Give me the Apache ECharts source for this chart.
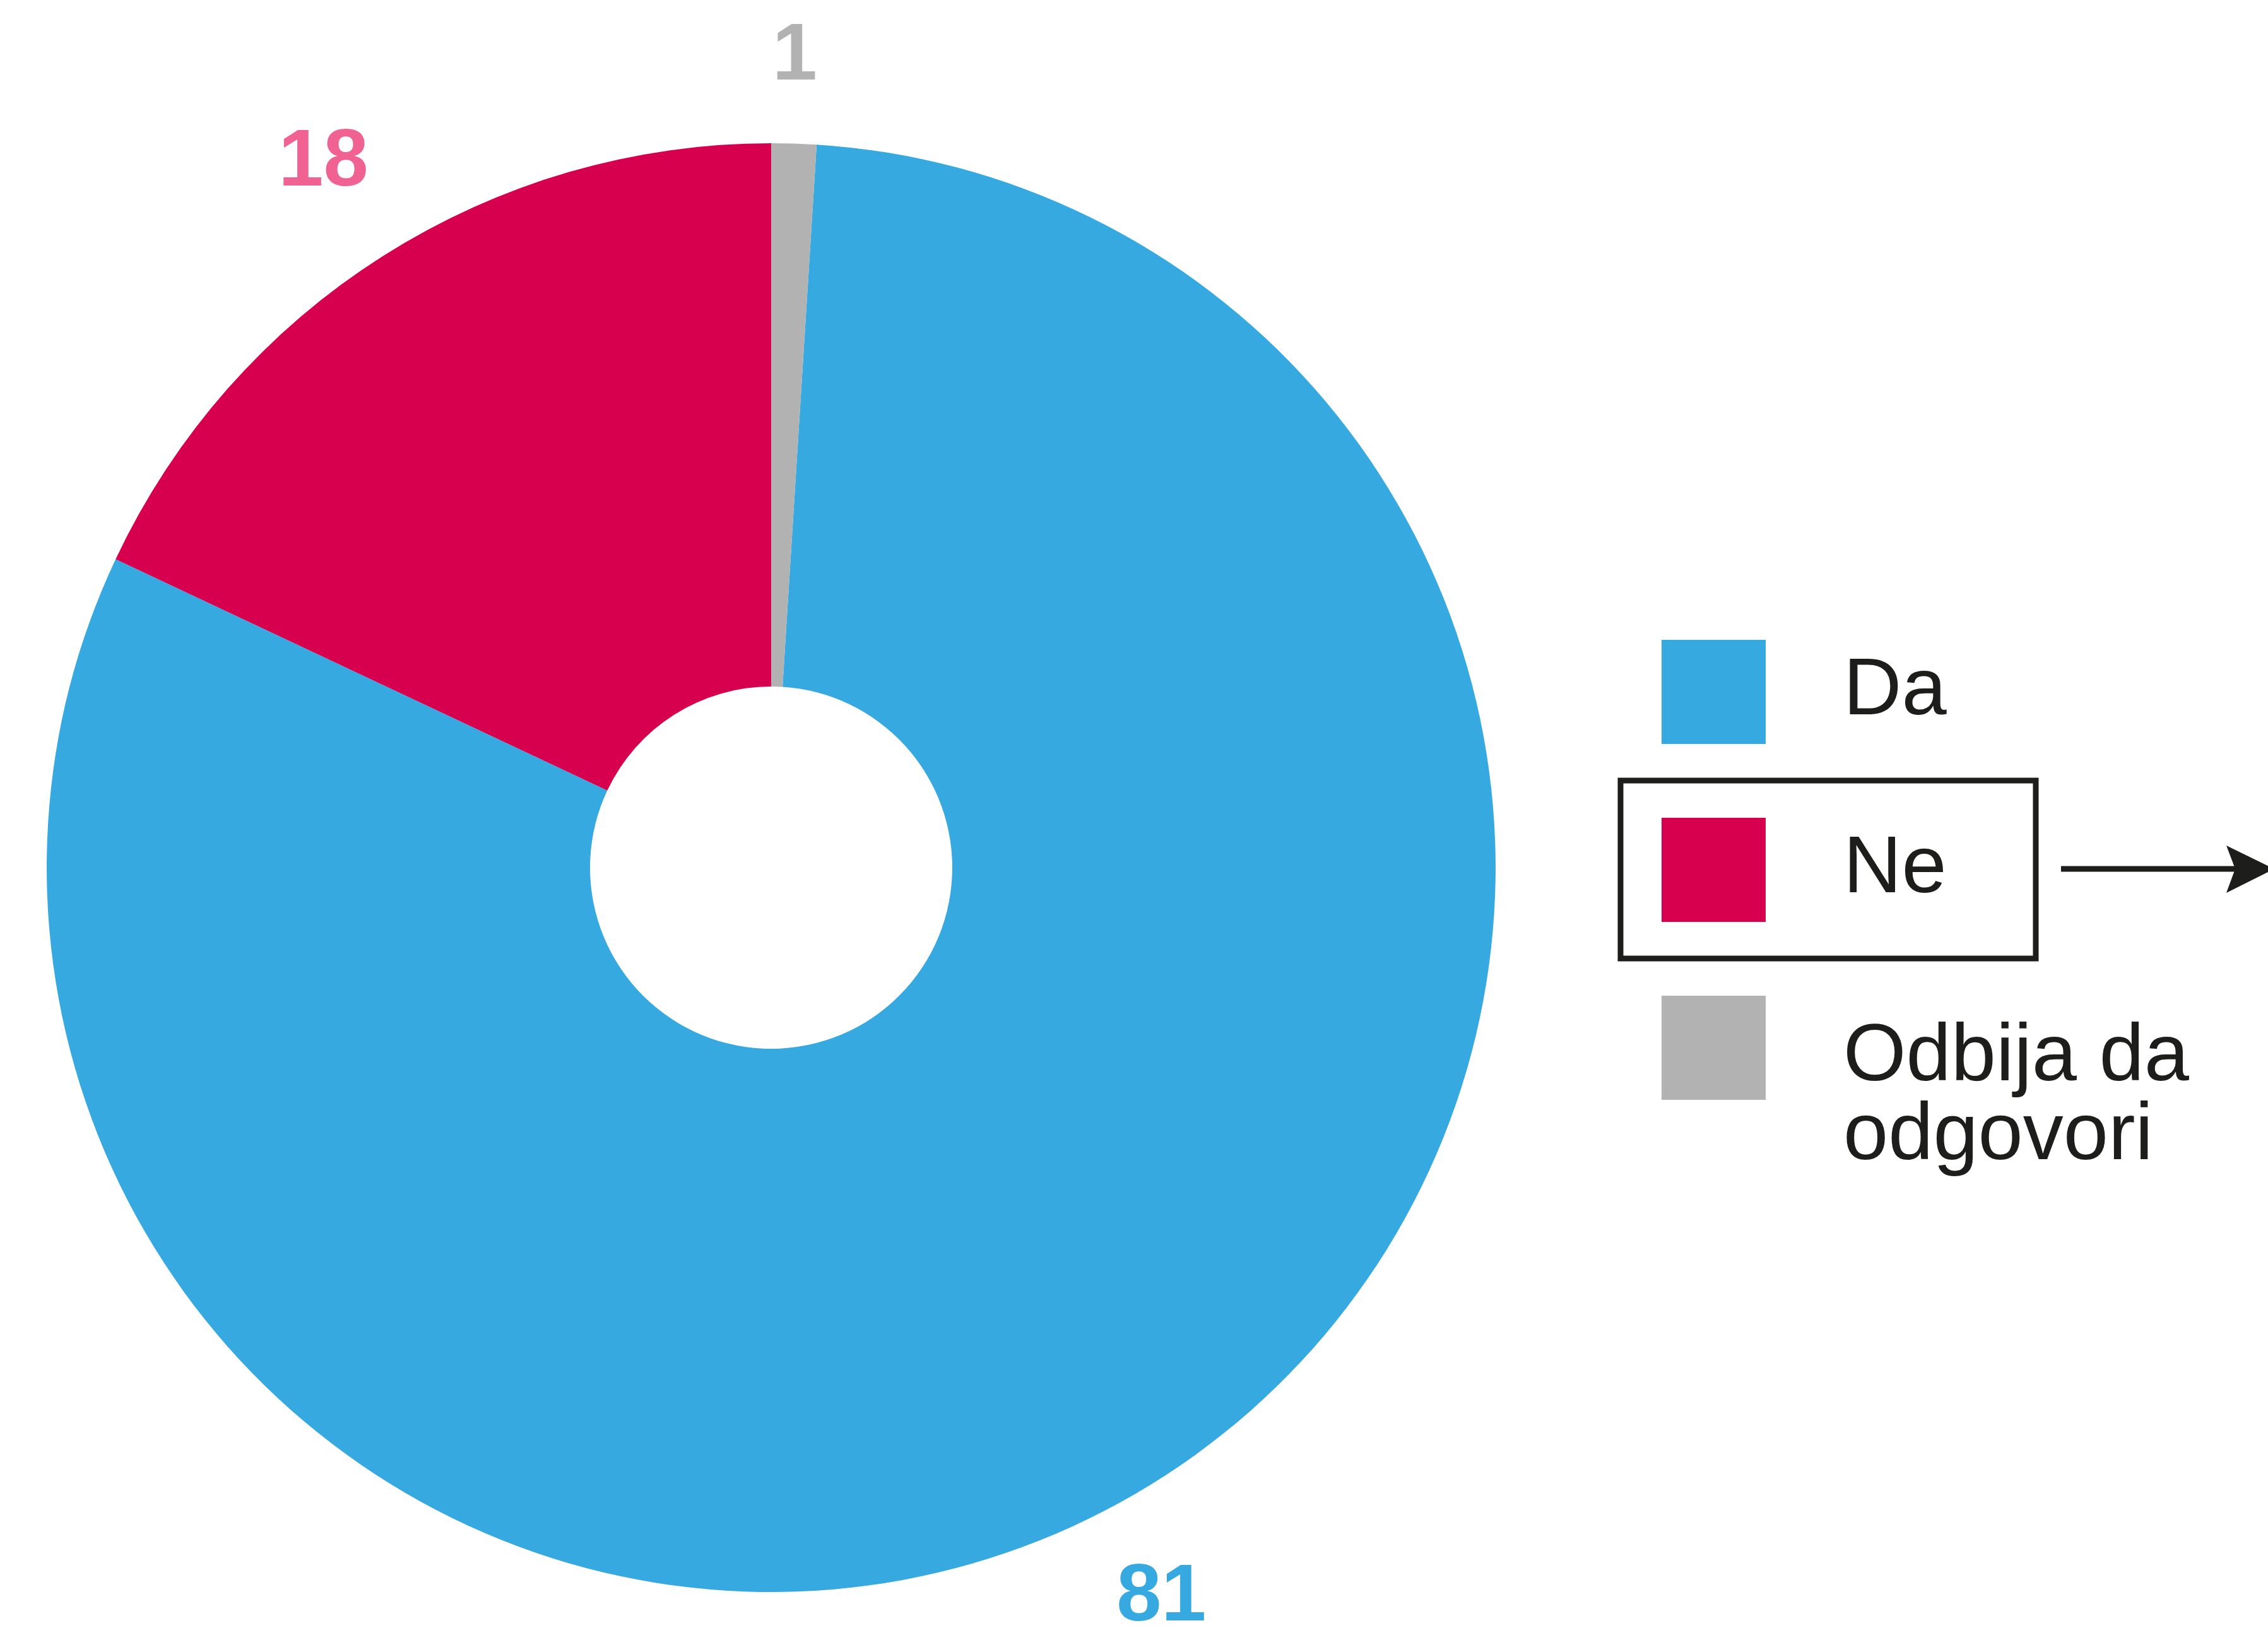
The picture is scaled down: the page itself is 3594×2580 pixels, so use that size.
<!DOCTYPE html>
<html>
<head>
<meta charset="utf-8">
<script src="https://cdn.jsdelivr.net/npm/echarts@6/dist/echarts.min.js"></script>
<style>
  html, body { margin: 0; padding: 0; background: #ffffff; }
  #chart { width: 3594px; height: 2580px; }
</style>
</head>
<body>
<div id="chart"></div>
<script>
// answers and their counts
var names = ['Da', 'Ne', 'Odbija da odgovori'];
var values = [81, 18, 1];

var sliceColors = ['#36a9e1', '#d7004f', '#b2b2b2'];
var labelColors = ['#36a9e1', '#f06292', '#b2b2b2'];
// small nudges so the numbers sit where the original put them
var labelNudge = [[-50, 28], [-6, -8], [-4, 28]];

var FONT = 'Liberation Sans';

var dom = document.getElementById('chart');
var myChart = echarts.init(dom);

var pieData = names.map(function (n, i) {
    return { name: n, value: values[i], itemStyle: { color: sliceColors[i] } };
});
var labelData = names.map(function (n, i) {
    return {
        name: n,
        value: values[i],
        itemStyle: { color: 'rgba(0,0,0,0)' },
        label: {
            offset: labelNudge[i],
            rich: { v: { color: labelColors[i], fontFamily: FONT, fontWeight: 'bold', fontSize: 128 } }
        }
    };
});

var legendText = {
    fontFamily: FONT,
    fontSize: 128,
    lineHeight: 125,
    color: '#1d1d1b',
    padding: [0, 0, 0, 118]
};

var option = {
    backgroundColor: '#ffffff',
    animation: false,
    legend: [
        {
            orient: 'vertical',
            left: 2633,
            top: 1014,
            padding: 0,
            itemWidth: 165,
            itemHeight: 165,
            itemGap: 117,
            icon: 'rect',
            selectedMode: false,
            textStyle: legendText,
            data: [names[0], names[1]]
        },
        {
            orient: 'vertical',
            left: 2633,
            top: 1457,
            padding: 0,
            itemWidth: 165,
            itemHeight: 165,
            icon: 'rect',
            selectedMode: false,
            // first line level with the swatch, second one below it
            formatter: function (name) {
                var parts = name.replace('da odgovori', 'da\nodgovori').split('\n');
                return '{s| }\n' + parts.map(function (p) { return '{a|' + p + '}'; }).join('\n');
            },
            textStyle: Object.assign({}, legendText, {
                rich: {
                    s: { fontSize: 10, lineHeight: 157 },
                    a: { fontFamily: FONT, fontSize: 128, lineHeight: 125, color: '#1d1d1b' }
                }
            }),
            data: [names[2]]
        }
    ],
    graphic: [
        {
            type: 'rect',
            shape: { x: 2568, y: 1237, width: 658, height: 282 },
            style: { fill: 'none', stroke: '#1d1d1b', lineWidth: 9 }
        },
        {
            type: 'line',
            shape: { x1: 3266, y1: 1377, x2: 3560, y2: 1377 },
            style: { stroke: '#1d1d1b', lineWidth: 9 }
        },
        {
            type: 'polygon',
            shape: { points: [[3528, 1340], [3604, 1377], [3528, 1415], [3542, 1377]] },
            style: { fill: '#1d1d1b' }
        }
    ],
    series: [
        {
            name: 'Odgovori',
            type: 'pie',
            center: [1222, 1375],
            radius: [287, 1148],
            startAngle: 86.4,
            clockwise: true,
            avoidLabelOverlap: false,
            label: { show: false },
            labelLine: { show: false },
            emphasis: { disabled: true },
            data: pieData
        },
        {
            name: 'Vrijednosti',
            type: 'pie',
            center: [1222, 1375],
            radius: [1270, 1350],
            startAngle: 86.4,
            clockwise: true,
            silent: true,
            legendHoverLink: false,
            avoidLabelOverlap: false,
            label: {
                show: true,
                position: 'inside',
                formatter: '{v|{c}}'
            },
            labelLine: { show: false },
            emphasis: { disabled: true },
            data: labelData
        }
    ]
};

if (option && typeof option === 'object') {
    myChart.setOption(option, true);
}
</script>
</body>
</html>
